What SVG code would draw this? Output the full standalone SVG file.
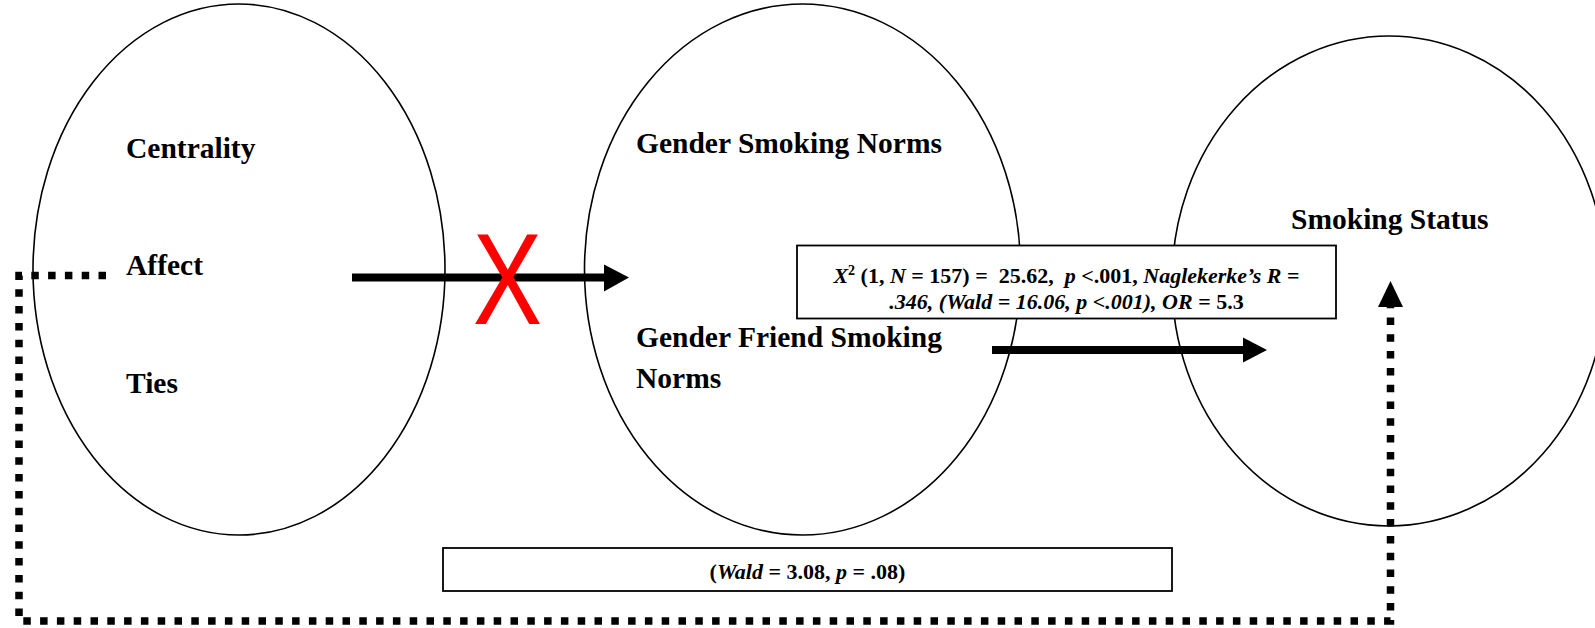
<svg xmlns="http://www.w3.org/2000/svg" width="1595" height="628" viewBox="0 0 1595 628">
<style>
.ell{fill:none;stroke:#000;stroke-width:1.6}
.lbl{font-family:"Liberation Serif","Times New Roman",serif;font-weight:bold;font-size:29.5px;fill:#000}
.box{fill:#fff;stroke:#000;stroke-width:1.8}
.stat{font-family:"Liberation Serif","Times New Roman",serif;font-weight:bold;font-size:22px;fill:#000}
.it{font-style:italic}
.arrow{stroke:#000;stroke-width:8;fill:none}
.dot{stroke:#000;stroke-width:7.5;fill:none;stroke-dasharray:7.5 9.3}
</style>
<rect width="1595" height="628" fill="#fff"/>
<g id="node-predictors">
<ellipse class="ell" cx="239" cy="269.5" rx="206" ry="265.5"/>
<text class="lbl" x="126" y="158">Centrality</text>
<text class="lbl" x="126" y="275">Affect</text>
<text class="lbl" x="126" y="393">Ties</text>
</g>
<g id="node-norms">
<ellipse class="ell" cx="802.5" cy="269.5" rx="218" ry="265.5"/>
<text class="lbl" x="636" y="153">Gender Smoking Norms</text>
<text class="lbl" x="636" y="347">Gender Friend Smoking</text>
<text class="lbl" x="636" y="388">Norms</text>
</g>
<g id="node-status">
<ellipse class="ell" cx="1389" cy="281" rx="217" ry="245"/>
<text class="lbl" x="1291" y="229">Smoking Status</text>
</g>
<g id="connectors">
<line class="arrow" x1="352" y1="277.5" x2="606" y2="277.5"/>
<polygon points="604,264.5 629,277.5 604,291.5" fill="#000"/>
<line class="arrow" x1="992" y1="350" x2="1245" y2="350"/>
<polygon points="1243,337.5 1267,350 1243,362.5" fill="#000"/>
<path class="dot" d="M106 275.5 H19 V621 H1390.5 V305"/>
<polygon points="1390.5,281 1378,307 1403,307" fill="#000"/>
</g>
<g id="blocked-mark">
<text transform="translate(507.5,324) scale(0.8,1)" text-anchor="middle" font-family="Liberation Sans, Arial, sans-serif" font-size="130" fill="#FF0000">X</text>
</g>
<g id="stat-box-main">
<rect class="box" x="797" y="245.5" width="539" height="73"/>
<text class="stat" x="1066.5" y="283" text-anchor="middle" xml:space="preserve"><tspan class="it">X</tspan><tspan font-size="14" dy="-8">2</tspan><tspan dy="8"> (1, </tspan><tspan class="it">N</tspan> = 157) =  25.62,  <tspan class="it">p</tspan> &lt;.001, <tspan class="it">Naglekerke’s R</tspan> =</text>
<text class="stat" x="1066.5" y="309" text-anchor="middle"><tspan class="it">.346, (Wald = 16.06, p &lt;.001), OR</tspan> = 5.3</text>
</g>
<g id="stat-box-direct">
<rect class="box" x="443" y="548" width="729" height="43"/>
<text class="stat" x="807.5" y="579" text-anchor="middle">(<tspan class="it">Wald</tspan> = 3.08, <tspan class="it">p</tspan> = .08)</text>
</g>
</svg>
